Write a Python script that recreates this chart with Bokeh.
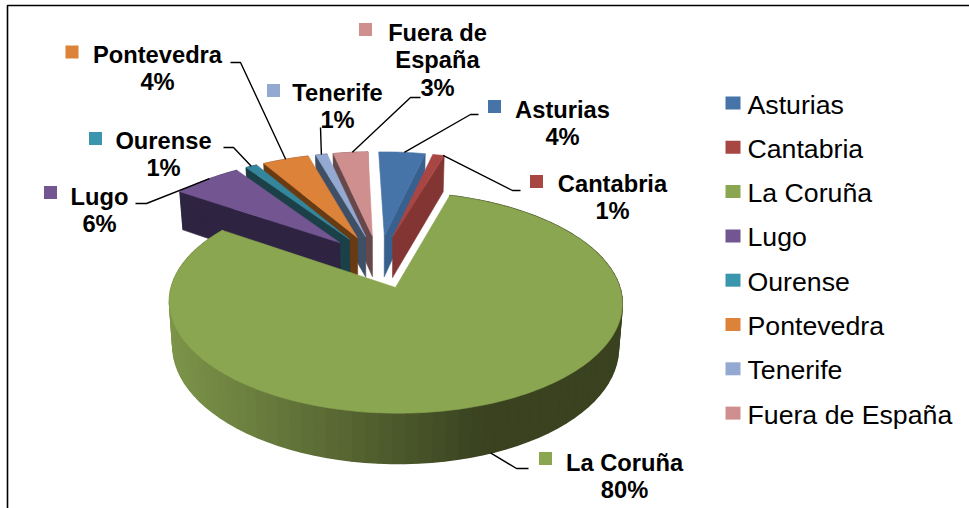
import math
from bokeh.plotting import figure
from bokeh.embed import file_html
from bokeh.resources import INLINE
from bokeh.core.properties import value

# ---- data ----
categories = ["Asturias", "Cantabria", "La Coruña", "Lugo", "Ourense", "Pontevedra", "Tenerife", "Fuera de España"]
percent = [4, 1, 80, 6, 1, 4, 1, 3]
label_lines = [["Asturias"], ["Cantabria"], ["La Coruña"], ["Lugo"], ["Ourense"], ["Pontevedra"], ["Tenerife"], ["Fuera de", "España"]]

# ---- styles ----
top_col = ["#4674a8", "#a84644", "#8aa650", "#725591", "#34869c", "#dc8239", "#94a9d1", "#cf8f8e"]
side_col = ["#38608e", "#833533", "#3a4220", "#2e2340", "#1b4048", "#6a3b12", "#3e4f66", "#66484a"]
legend_col = ["#4674a8", "#a84644", "#8aa650", "#725591", "#3b95ad", "#dc8239", "#94a9d1", "#cf8f8e"]

# ---- layout (screen px of the 969x508 page) ----
CX, CY, AX, KY, PERSP, EXPLODE, DEPTH = 377.0, 261.0, 217.0, 101.6, 0.132, 0.26, 42.0
ROTATION = -1.5
label_cx = [562, 612, 624, 99, 163, 157, 337, 437]
label_y0 = [109, 183, 462, 196, 140, 54, 92, 32]
marker_xy = [(494, 106), (536, 181), (545, 458), (50, 192), (95, 138), (71.5, 51.5), (273, 90), (365, 29)]
elbow = [[(478, 114), (470, 114)], [(520, 190), (512, 190)], [(528, 468), (516, 468)], [(135, 203), (146, 203)],
         [(223, 147), (233, 147)], [(230, 62), (240, 62)], [(320, 127), (320, 127)], [(420, 97), (410, 97)]]
# where on a slice's rim the leader line lands, as a fraction of the slice
leader_frac = [0.55, 0.9, 0.493, 0.55, 0.5, 0.5, 0.5, 0.55]
leader_depth = [0, 0, 1, 0, 0, 0, 0, 0]
LINE_PITCH = 27.5
LEG_X, LEG_Y0, LEG_STEP = 747, 104, 44.3

p = figure(width=969, height=508, x_range=(0, 969), y_range=(508, 0), output_backend="svg",
           toolbar_location=None, min_border=0, margin=0)
p.axis.visible = False
p.grid.visible = False
p.outline_line_color = None
p.background_fill_color = "white"
p.border_fill_color = "white"

total = sum(percent)
starts, ends, a = [], [], 0.0
for v in percent:
    starts.append(a)
    a += 360.0 * v / total
    ends.append(a)


def project(th_deg, r, mid_deg, depth=0.0):
    th, m = math.radians(th_deg + ROTATION), math.radians(mid_deg)
    u = EXPLODE * math.sin(m) + r * math.sin(th)
    v = EXPLODE * math.cos(m) + r * math.cos(th)
    s = 1.0 / (1.0 + PERSP * v)
    xscale = 1.0 - 0.016 * depth
    return CX + AX * u * s * xscale, CY - KY * v * s + depth * DEPTH * s


def arc_pts(a0, a1, mid, depth=0.0):
    n = max(2, int(abs(a1 - a0)) + 1)
    return [project(a0 + (a1 - a0) * i / n, 1.0, mid, depth) for i in range(n + 1)]


def lerp_hex(c0, c1, t):
    t = min(1.0, max(0.0, t))
    a0 = [int(c0[i:i + 2], 16) for i in (1, 3, 5)]
    a1 = [int(c1[i:i + 2], 16) for i in (1, 3, 5)]
    return "#%02x%02x%02x" % tuple(round(x + (y - x) * t) for x, y in zip(a0, a1))


def poly(pts, col):
    p.patch([q[0] for q in pts], [q[1] for q in pts], fill_color=col, line_color=col, line_width=0.6)


def cut_face(th, mid, col):
    apex0, apex1 = project(0, 0, mid), project(0, 0, mid, 1)
    rim0, rim1 = project(th, 1, mid), project(th, 1, mid, 1)
    poly([apex0, rim0, rim1, apex1], col)


mids = [(s + e) / 2 for s, e in zip(starts, ends)]
GREEN = 2

# back slices, from the far right round to the near left, then the two at the right
for i in [7, 6, 5, 4, 3, 0, 1]:
    if i in (0, 1):
        cut_face(ends[i], mids[i], side_col[i])
    else:
        cut_face(starts[i], mids[i], side_col[i])
        # outer wall
        top = arc_pts(starts[i], ends[i], mids[i])
        bot = arc_pts(starts[i], ends[i], mids[i], 1)
        poly(top + bot[::-1], side_col[i])
    poly([project(0, 0, mids[i])] + arc_pts(starts[i], ends[i], mids[i]), top_col[i])

# the big slice: outer wall as shaded strips, then its top
s, e, m = starts[GREEN], ends[GREEN], mids[GREEN]
qxs, qys, qcs = [], [], []
STEPS = int(e - s) // 3
for k in range(STEPS):
    a0, a1 = s + (e - s) * k / STEPS, s + (e - s) * (k + 1) / STEPS
    t0, t1 = project(a0, 1, m), project(a1, 1, m)
    b0, b1 = project(a0, 1, m, 1), project(a1, 1, m, 1)
    xmid = (t0[0] + t1[0]) / 2
    col = lerp_hex("#7c9449", side_col[GREEN], (xmid - 170.0) / 310.0)
    qxs.append([t0[0], t1[0], b1[0], b0[0]])
    qys.append([t0[1], t1[1], b1[1], b0[1]])
    qcs.append(col)
p.patches(qxs, qys, fill_color=qcs, line_color=qcs, line_width=1.5)
poly([project(0, 0, m)] + arc_pts(s, e, m), top_col[GREEN])

# leader lines end on the rim of their slice
for i in range(len(categories)):
    th = starts[i] + (ends[i] - starts[i]) * leader_frac[i]
    end = project(th, 1, mids[i], leader_depth[i])
    xs = [elbow[i][0][0], elbow[i][1][0], end[0]]
    ys = [elbow[i][0][1], elbow[i][1][1], end[1]]
    p.line(xs, ys, line_color="#000000", line_width=1.4)

# data labels
tx, ty, tt = [], [], []
for i, lines in enumerate(label_lines):
    y = label_y0[i]
    for ln in lines:
        tx.append(label_cx[i]); ty.append(y); tt.append(ln)
        y += LINE_PITCH
    tx.append(label_cx[i]); ty.append(y); tt.append(f"{percent[i]}%")
p.text(tx, ty, text=tt, text_font=value("Liberation Sans"), text_font_style="bold", text_font_size="23.7px",
       text_align="center", text_baseline="middle", text_color="#000000")
p.rect([q[0] for q in marker_xy], [q[1] for q in marker_xy], width=13, height=13,
       fill_color=legend_col, line_color=None)

# legend
ly = [LEG_Y0 + LEG_STEP * i for i in range(len(categories))]
p.rect([732.5] * len(categories), [y - 1.5 for y in ly], width=15, height=13, fill_color=legend_col, line_color=None)
p.text([LEG_X] * len(categories), ly, text=categories, text_font=value("Liberation Sans"), text_font_size="26.7px",
       text_align="left", text_baseline="middle", text_color="#000000")

# chart frame
p.line([7, 7, 969], [508, 5, 5], line_color="#000000", line_width=1.6)

open("out.html", "w").write(file_html(p, INLINE))
